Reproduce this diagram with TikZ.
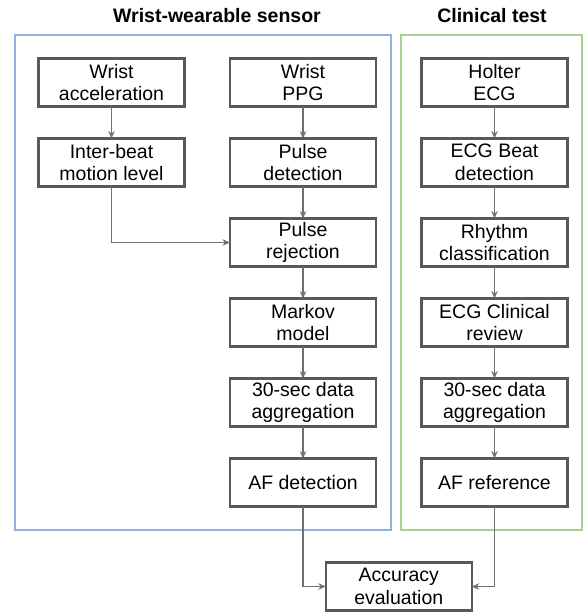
\documentclass[tikz,border=0pt]{standalone}
\usepackage{fontspec}
\setmainfont{Liberation Sans}
\usepackage{tikz}
\usetikzlibrary{positioning,calc,arrows.meta}

\definecolor{boxgray}{HTML}{595959}
\definecolor{arrgray}{HTML}{707070}
\definecolor{sensorblue}{HTML}{8DB3E2}
\definecolor{clinicgreen}{HTML}{A8D08D}

\tikzset{
	stage/.style={draw=boxgray,line width=2.2pt,minimum width=146pt,minimum height=48pt,align=center,inner sep=0pt,outer sep=0pt,font=\fontsize{19.5}{22.5}\selectfont},
	link/.style={draw=arrgray,line width=1.3pt,-{Stealth[length=7.5pt,width=6.5pt]}},
	title/.style={font=\fontsize{19.5}{23.5}\selectfont\bfseries}
}

\begin{document}
\begin{tikzpicture}
\useasboundingbox (0,0) rectangle (585pt,-613pt);
% frames of the two branches
\draw[sensorblue,line width=1.5pt] (15pt,-35pt) rectangle (391pt,-530pt);
\draw[clinicgreen,line width=1.5pt] (401pt,-35pt) rectangle (582pt,-530pt);
\node (sensortitle)[title] at (217pt,-16pt){Wrist-wearable sensor};
\node (clinictitle)[title] at (492pt,-16pt){Clinical test};

\node (wristacc)[stage] at (111.5pt,-82.5pt){Wrist\\acceleration};
\node (interbeat)[stage,below=32pt of wristacc]{Inter-beat\\motion level};

\node (wristppg)[stage,right=45.5pt of wristacc]{Wrist\\PPG};
\node (pulsedet)[stage,below=32pt of wristppg]{Pulse\\detection};
\node (pulserej)[stage,below=32pt of pulsedet]{Pulse\\rejection};
\node (markov)[stage,below=32pt of pulserej]{Markov\\model};
\node (aggsensor)[stage,below=32pt of markov]{30-sec data\\aggregation};
\node (afdet)[stage,below=32pt of aggsensor]{AF detection};

\node (holter)[stage,right=45.5pt of wristppg]{Holter\\ECG};
\node (ecgbeat)[stage,below=32pt of holter]{ECG Beat\\detection};
\node (rhythm)[stage,below=32pt of ecgbeat]{Rhythm\\classification};
\node (review)[stage,below=32pt of rhythm]{ECG Clinical\\review};
\node (aggclinic)[stage,below=32pt of review]{30-sec data\\aggregation};
\node (afref)[stage,below=32pt of aggclinic]{AF reference};

\node (accuracy)[stage] at ($(afdet)!0.5!(afref)+(0,-104pt)$){Accuracy\\evaluation};

% draw the connections
\draw[link] (wristacc)--(interbeat);
\draw[link] (interbeat.south)|-(pulserej.west);
\draw[link] (wristppg)--(pulsedet);
\draw[link] (pulsedet)--(pulserej);
\draw[link] (pulserej)--(markov);
\draw[link] (markov)--(aggsensor);
\draw[link] (aggsensor)--(afdet);
\draw[link] (holter)--(ecgbeat);
\draw[link] (ecgbeat)--(rhythm);
\draw[link] (rhythm)--(review);
\draw[link] (review)--(aggclinic);
\draw[link] (aggclinic)--(afref);
\draw[link] (afdet.south)|-(accuracy.west);
\draw[link] (afref.south)|-(accuracy.east);
\end{tikzpicture}
\end{document}
